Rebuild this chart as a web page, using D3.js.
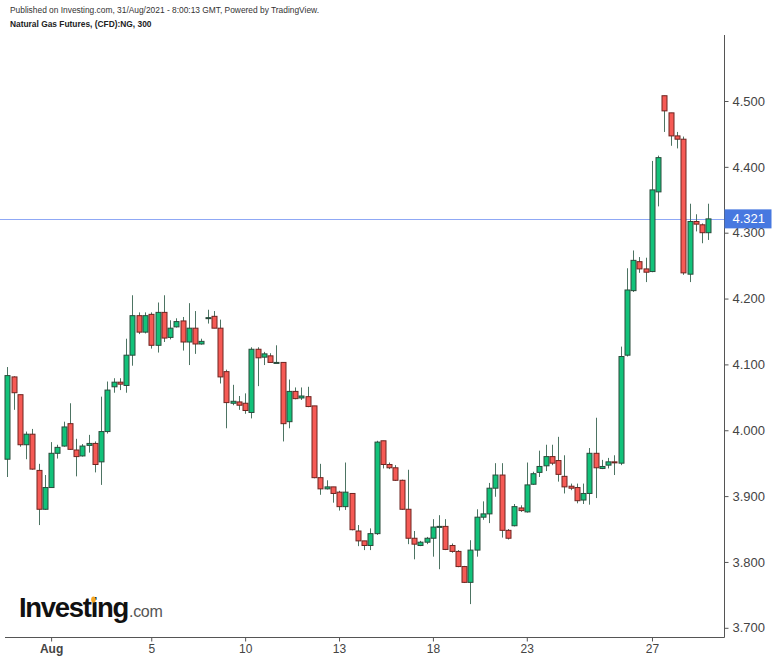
<!DOCTYPE html>
<html>
<head>
<meta charset="utf-8">
<script src="https://cdn.jsdelivr.net/npm/d3@7"></script>
<style>
  body { margin: 0; background: #fff; }
  svg { display: block; font-family: "Liberation Sans", Arial, sans-serif; }
</style>
</head>
<body>
<svg id="chart" width="780" height="662"></svg>
<script>
// 300-minute candles, Natural Gas Futures, late Jul - 31 Aug 2021
var open = [
  3.956, 4.081, 4.054, 3.978, 3.994, 3.939, 3.880, 3.913, 3.965, 3.976,
  4.010, 3.970, 3.961, 3.977, 3.980, 3.952, 3.998, 4.066, 4.073, 4.068,
  4.114, 4.174, 4.149, 4.176, 4.129, 4.179, 4.141, 4.157, 4.166, 4.134,
  4.155, 4.131, 4.171, 4.173, 4.155, 4.089, 4.041, 4.043, 4.041, 4.027,
  4.123, 4.111, 4.113, 4.103, 4.103, 4.013, 4.059, 4.049, 4.051, 4.037,
  3.928, 3.911, 3.914, 3.906, 3.884, 3.904, 3.847, 3.832, 3.825, 3.843,
  3.984, 3.948, 3.943, 3.924, 3.880, 3.836, 3.825, 3.830, 3.836, 3.854,
  3.854, 3.825, 3.816, 3.793, 3.769, 3.818, 3.868, 3.873, 3.912, 3.932,
  3.848, 3.855, 3.882, 3.876, 3.918, 3.936, 3.946, 3.960, 3.954, 3.930,
  3.915, 3.913, 3.894, 3.904, 3.965, 3.942, 3.947, 3.952, 3.950, 4.114,
  4.212, 4.256, 4.245, 4.241, 4.362, 4.508, 4.482, 4.447, 4.442, 4.237,
  4.317, 4.312, 4.300
];
var high = [
  4.096, 4.082, 4.054, 3.998, 4.002, 3.949, 3.932, 3.982, 3.978, 4.013,
  4.041, 3.987, 3.979, 3.993, 3.983, 4.051, 4.074, 4.079, 4.079, 4.139,
  4.205, 4.179, 4.179, 4.179, 4.194, 4.205, 4.167, 4.170, 4.172, 4.193,
  4.181, 4.139, 4.183, 4.181, 4.168, 4.092, 4.069, 4.052, 4.056, 4.126,
  4.126, 4.119, 4.117, 4.129, 4.103, 4.077, 4.065, 4.065, 4.066, 4.037,
  3.949, 3.924, 3.914, 3.908, 3.951, 3.904, 3.856, 3.832, 3.851, 3.984,
  3.984, 3.951, 3.947, 3.925, 3.940, 3.847, 3.832, 3.838, 3.865, 3.871,
  3.865, 3.828, 3.818, 3.794, 3.833, 3.880, 3.892, 3.920, 3.950, 3.950,
  3.850, 3.888, 3.886, 3.951, 3.937, 3.969, 3.978, 3.978, 3.990, 3.962,
  3.919, 3.919, 3.919, 3.973, 4.019, 3.955, 3.958, 3.962, 4.127, 4.246,
  4.273, 4.263, 4.262, 4.409, 4.417, 4.508, 4.482, 4.453, 4.446, 4.344,
  4.328, 4.314, 4.344
];
var low = [
  3.929, 4.031, 3.975, 3.956, 3.940, 3.856, 3.879, 3.913, 3.957, 3.975,
  3.970, 3.930, 3.960, 3.966, 3.936, 3.917, 3.995, 4.057, 4.061, 4.057,
  4.098, 4.146, 4.147, 4.124, 4.118, 4.134, 4.138, 4.156, 4.121, 4.099,
  4.116, 4.130, 4.162, 4.155, 4.071, 4.003, 4.038, 4.031, 4.025, 4.018,
  4.067, 4.099, 4.103, 4.103, 3.983, 4.003, 4.047, 4.046, 4.035, 3.927,
  3.902, 3.910, 3.890, 3.878, 3.879, 3.848, 3.824, 3.818, 3.818, 3.841,
  3.942, 3.941, 3.923, 3.879, 3.827, 3.804, 3.824, 3.827, 3.808, 3.789,
  3.818, 3.814, 3.792, 3.768, 3.736, 3.808, 3.864, 3.859, 3.899, 3.837,
  3.834, 3.854, 3.876, 3.875, 3.917, 3.929, 3.938, 3.947, 3.922, 3.904,
  3.909, 3.889, 3.888, 3.887, 3.897, 3.941, 3.942, 3.932, 3.947, 4.112,
  4.210, 4.239, 4.225, 4.240, 4.340, 4.453, 4.432, 4.428, 4.236, 4.225,
  4.302, 4.284, 4.289
];
var close = [
  4.083, 4.057, 3.978, 3.994, 3.941, 3.880, 3.913, 3.965, 3.974, 4.005,
  3.971, 3.960, 3.976, 3.980, 3.948, 3.998, 4.061, 4.073, 4.070, 4.114,
  4.174, 4.149, 4.174, 4.129, 4.179, 4.140, 4.155, 4.165, 4.134, 4.155,
  4.131, 4.135, 4.171, 4.155, 4.081, 4.042, 4.044, 4.038, 4.030, 4.123,
  4.110, 4.116, 4.103, 4.103, 4.010, 4.059, 4.048, 4.052, 4.036, 3.928,
  3.911, 3.914, 3.904, 3.884, 3.906, 3.849, 3.832, 3.825, 3.843, 3.982,
  3.948, 3.943, 3.924, 3.880, 3.836, 3.827, 3.830, 3.836, 3.853, 3.854,
  3.819, 3.816, 3.793, 3.769, 3.818, 3.868, 3.873, 3.912, 3.932, 3.848,
  3.836, 3.884, 3.878, 3.917, 3.934, 3.945, 3.960, 3.950, 3.933, 3.914,
  3.912, 3.893, 3.904, 3.965, 3.943, 3.945, 3.952, 3.951, 4.112, 4.213,
  4.258, 4.245, 4.240, 4.365, 4.414, 4.485, 4.447, 4.442, 4.239, 4.317,
  4.313, 4.300, 4.321
];

// x-axis labels sit on these candle indices
var tickIdx = [7, 23, 38, 53, 68, 83, 103];
var tickLabels = ["Aug", "5", "10", "13", "18", "23", "27"];
var priceTicks = [3.7, 3.8, 3.9, 4.0, 4.1, 4.2, 4.3, 4.4, 4.5];
var lastPrice = 4.321;

var svg = d3.select("#chart");
var axisX = 724.5, axisBottom = 637.5;

var x = d3.scaleLinear().domain([0, open.length - 1]).range([7.3, 708.3]);
var y = d3.scaleLinear().domain([3.7, 4.5]).range([627.8, 101]);

var candles = open.map(function (o, i) {
    return { i: i, o: o, h: high[i], l: low[i], c: close[i], up: close[i] >= o };
});

// header
svg.append("text").attr("x", 10).attr("y", 13)
    .attr("font-size", 8.4).attr("fill", "#333")
    .text("Published on Investing.com, 31/Aug/2021 - 8:00:13 GMT, Powered by TradingView.");
svg.append("text").attr("x", 10).attr("y", 27)
    .attr("font-size", 8.4).attr("font-weight", "bold").attr("fill", "#222")
    .text("Natural Gas Futures, (CFD):NG, 300");

// last price line (under the candles)
svg.append("line")
    .attr("x1", 0).attr("x2", axisX)
    .attr("y1", Math.round(y(lastPrice)) + 0.5).attr("y2", Math.round(y(lastPrice)) + 0.5)
    .attr("stroke", "#8fa8f5").attr("stroke-width", 1);

// candles
var g = svg.append("g");
g.selectAll("line.wick")
    .data(candles)
    .join("line")
    .attr("class", "wick")
    .attr("x1", d => Math.round(x(d.i)) + 0.5)
    .attr("x2", d => Math.round(x(d.i)) + 0.5)
    .attr("y1", d => y(d.h))
    .attr("y2", d => y(d.l))
    .attr("stroke", "#4d7463")
    .attr("stroke-width", 1);

g.selectAll("rect.body")
    .data(candles)
    .join("rect")
    .attr("class", "body")
    .attr("x", d => Math.round(x(d.i)) - 2)
    .attr("width", 5)
    .attr("y", d => y(Math.max(d.o, d.c)))
    .attr("height", d => Math.max(1, Math.abs(y(d.o) - y(d.c))))
    .attr("fill", d => d.up ? "#12c27a" : "#f65a55")
    .attr("stroke", d => d.up ? "#2a4a3b" : "#6e2420")
    .attr("stroke-width", 1);

// right price axis
var yAxis = d3.axisRight(y)
    .tickValues(priceTicks)
    .tickFormat(d3.format(".3f"))
    .tickSize(4)
    .tickPadding(4);
var ya = svg.append("g")
    .attr("transform", `translate(${axisX},0)`)
    .call(yAxis);
ya.select(".domain").remove();
ya.selectAll("line").attr("stroke", "#555");
ya.selectAll("text").attr("font-size", 13).attr("fill", "#444")
    .attr("font-family", "'Liberation Sans', Arial, sans-serif");
svg.append("line")
    .attr("x1", axisX).attr("x2", axisX)
    .attr("y1", 35).attr("y2", axisBottom)
    .attr("stroke", "#555").attr("stroke-width", 1);

// bottom time axis
var xAxis = d3.axisBottom(x)
    .tickValues(tickIdx)
    .tickFormat((d, k) => tickLabels[k])
    .tickSize(4)
    .tickPadding(3);
var xa = svg.append("g")
    .attr("transform", `translate(0,${axisBottom})`)
    .call(xAxis);
xa.select(".domain").remove();
xa.selectAll("line").attr("stroke", "#555");
xa.selectAll("text").attr("font-size", 12).attr("fill", "#444")
    .attr("font-family", "'Liberation Sans', Arial, sans-serif")
    .attr("font-weight", (d, k) => k === 0 ? "bold" : "normal");
svg.append("line")
    .attr("x1", 5).attr("x2", axisX)
    .attr("y1", axisBottom).attr("y2", axisBottom)
    .attr("stroke", "#555").attr("stroke-width", 1);

// last price tag
var ly = y(lastPrice);
svg.append("rect")
    .attr("x", axisX).attr("y", ly - 9.5)
    .attr("width", 47).attr("height", 19)
    .attr("fill", "#4778e0");
svg.append("text")
    .attr("x", axisX + 8).attr("y", ly + 4.5)
    .attr("font-size", 13).attr("fill", "#fff")
    .text(d3.format(".3f")(lastPrice));

// Investing.com logo
var logo = svg.append("text")
    .attr("x", 19).attr("y", 617)
    .attr("font-family", "'Liberation Sans', Arial, sans-serif");
logo.append("tspan")
    .attr("font-size", 27.5).attr("font-weight", "bold").attr("fill", "#111")
    .attr("letter-spacing", -1.3)
    .text("Investing");
logo.append("tspan")
    .attr("font-size", 16).attr("fill", "#555")
    .attr("letter-spacing", -0.3)
    .attr("dx", 1)
    .text(".com");
var dot = logo.node().getExtentOfChar(6);
svg.append("ellipse")
    .attr("cx", dot.x + dot.width / 2 - 0.4).attr("cy", dot.y + 7.5)
    .attr("rx", 2.3).attr("ry", 3.1)
    .attr("fill", "#f5a623");
</script>
</body>
</html>
